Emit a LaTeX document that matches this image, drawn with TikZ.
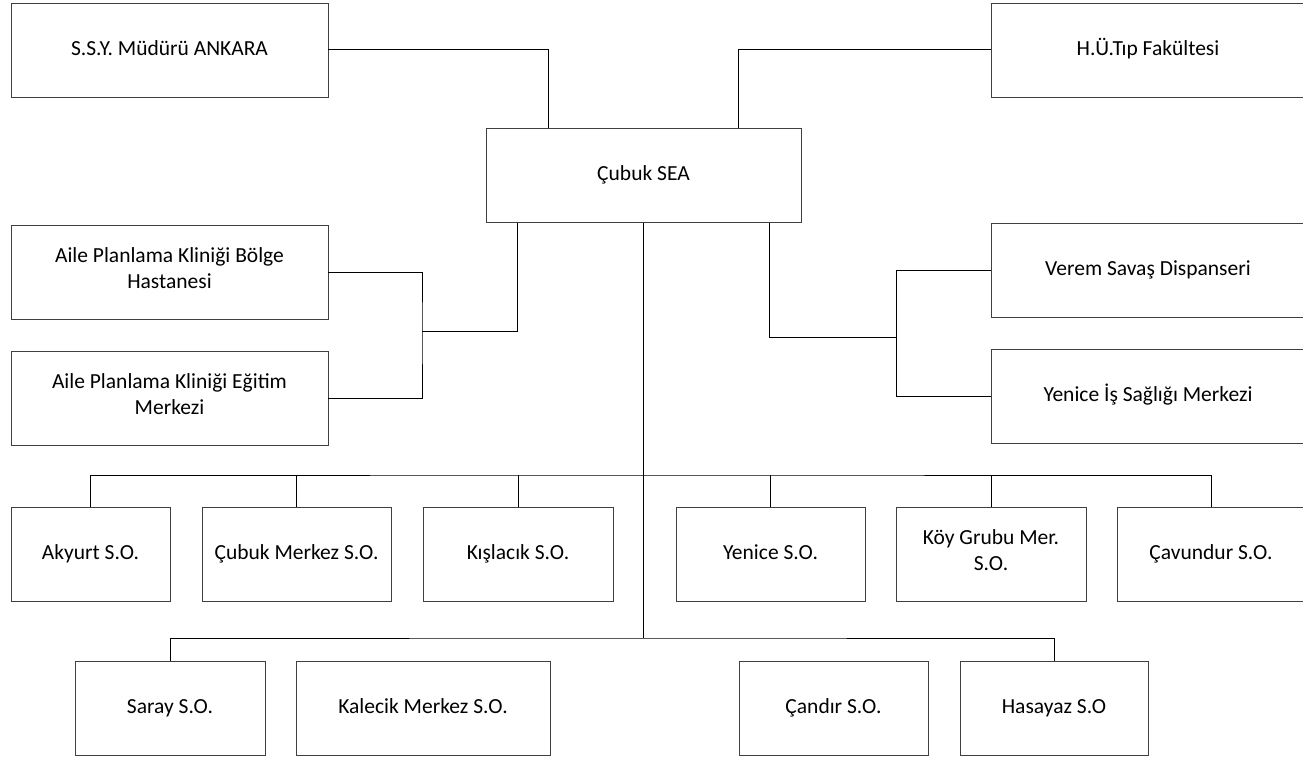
\documentclass[tikz,border=0pt]{standalone}
\usepackage{fontspec}
\setmainfont{Carlito}
\usetikzlibrary{calc,positioning}

\begin{document}
\begin{tikzpicture}[
  x=1pt, y=-1pt,
  box/.style={rectangle, draw=black!75, fill=white, line width=0.9pt, align=center, font=\fontsize{21.5}{25.5}\selectfont, minimum height=94pt, inner sep=2pt, execute at begin node=\strut, execute at end node=\strut},
  widebox/.style={box, minimum width=317pt},
  sobox/.style={box, minimum width=189pt},
  link/.style={draw=black, line width=1pt}
]
  \useasboundingbox (0,0) rectangle (1303,757);

  % Top level
  \node[widebox] (ssy) at (169.5, 50) {S.S.Y. Müdürü ANKARA};
  \node[widebox, minimum width=314pt] (hu) at (1148, 50) {H.Ü.Tıp Fakültesi};
  \node[box, minimum width=315pt] (sea) at (643.5, 175.5) {Çubuk SEA};

  % Side units
  \node[widebox] (apb) at (169.5, 272) {Aile Planlama Kliniği Bölge\\Hastanesi};
  \node[widebox] (ape) at (169.5, 398) {Aile Planlama Kliniği Eğitim\\Merkezi};
  \node[widebox, minimum width=314pt] (verem) at (1148, 270) {Verem Savaş Dispanseri};
  \node[widebox, minimum width=314pt] (yis) at (1148, 396) {Yenice İş Sağlığı Merkezi};

  % Health centres, first row
  \node[sobox, minimum width=159pt] (akyurt) at (90.5, 554) {Akyurt S.O.};
  \node[sobox] (cubukm) at (296.5, 554) {Çubuk Merkez S.O.};
  \node[sobox, minimum width=190pt] (kislacik) at (518, 554) {Kışlacık S.O.};
  \node[sobox] (yenice) at (770.5, 554) {Yenice S.O.};
  \node[sobox, minimum width=190pt] (koy) at (991, 554) {Köy Grubu Mer.\\S.O.};
  \node[sobox, minimum width=188pt] (cavundur) at (1211, 554) {Çavundur S.O.};

  % Health centres, second row
  \node[sobox, minimum width=190pt] (saray) at (170, 708) {Saray S.O.};
  \node[sobox, minimum width=254pt] (kalecik) at (423, 708) {Kalecik Merkez S.O.};
  \node[sobox] (candir) at (833.5, 708) {Çandır S.O.};
  \node[sobox, minimum width=188pt] (hasayaz) at (1054, 708) {Hasayaz S.O};

  % Bus points
  \coordinate (lbus) at (422, 331);
  \coordinate (rbus) at (896, 337);
  \coordinate (bus1) at (643.5, 475);
  \coordinate (bus2) at (643.5, 638);

  % Upper links
  \draw[link] (ssy.east) -| ($(sea.north west)!0.2!(sea.north east)$);
  \draw[link] (hu.west) -| ($(sea.north west)!0.8!(sea.north east)$);

  % Side links
  \draw[link] ($(sea.south west)!0.1!(sea.south east)$) |- (lbus);
  \draw[link] (apb.east) -| (lbus) |- (ape.east);
  \draw[link] ($(sea.south west)!0.9!(sea.south east)$) |- (rbus);
  \draw[link] (verem.west) -| (rbus) |- (yis.west);

  % Trunk and rows
  \draw[link] (sea.south) -- (bus2);
  \draw[link] (akyurt.north) |- (bus1) -| (cavundur.north);
  \foreach \n in {cubukm, kislacik, yenice, koy}
    \draw[link] (\n.north) -- (\n.north |- bus1);
  \draw[link] (saray.north) |- (bus2) -| (hasayaz.north);

\end{tikzpicture}
\end{document}
